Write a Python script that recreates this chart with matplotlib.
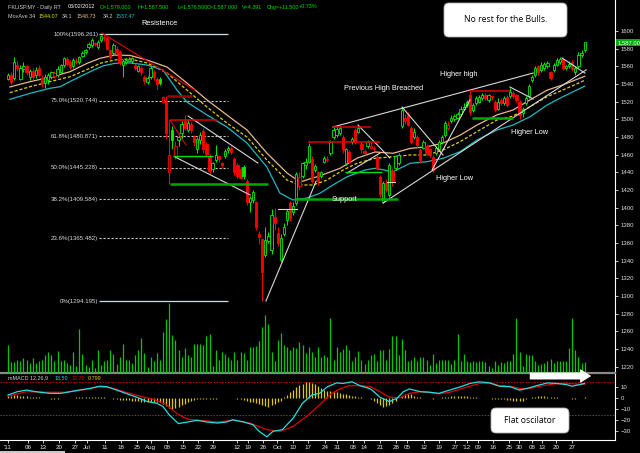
import numpy as np
import matplotlib.pyplot as plt
from matplotlib.patches import FancyBboxPatch, FancyArrowPatch, Rectangle
from matplotlib.transforms import IdentityTransform, blended_transform_factory

plt.rcParams['font.family'] = ['Liberation Sans', 'DejaVu Sans']

# daily bars, FKLI futures, 30 May 2011 .. 2 Mar 2012
opens = [1546, 1550, 1547, 1562, 1546, 1557, 1560, 1548, 1555, 1550,
         1558, 1547, 1541, 1544, 1548, 1549, 1550, 1553, 1561, 1568,
         1565, 1560, 1566, 1565, 1572, 1576, 1582, 1584, 1586, 1582,
         1590, 1592, 1592, 1578, 1575, 1580, 1576, 1562, 1565, 1566,
         1566, 1562, 1555, 1558, 1548, 1542, 1548, 1554, 1546, 1546,
         1520, 1520, 1440, 1488, 1458, 1476, 1485, 1498, 1488, 1495,
         1480, 1466, 1476, 1487, 1472, 1459, 1444, 1454, 1458, 1450,
         1458, 1465, 1467, 1455, 1448, 1444, 1446, 1430, 1406, 1409,
         1406, 1370, 1364, 1346, 1362, 1352, 1389, 1371, 1341, 1370,
         1386, 1405, 1395, 1405, 1425, 1436, 1448, 1452, 1455, 1443,
         1440, 1436, 1452, 1454, 1462, 1480, 1482, 1484, 1480, 1450,
         1463, 1474, 1488, 1486, 1472, 1464, 1470, 1468, 1466, 1457,
         1435, 1406, 1428, 1414, 1442, 1445, 1450, 1492, 1498, 1505,
         1490, 1480, 1480, 1465, 1468, 1470, 1466, 1457, 1462, 1466,
         1474, 1482, 1490, 1498, 1500, 1502, 1506, 1512, 1516, 1528,
         1510, 1518, 1520, 1524, 1528, 1522, 1526, 1520, 1512, 1522,
         1518, 1525, 1526, 1530, 1527, 1520, 1507, 1518, 1526, 1544,
         1550, 1560, 1556, 1558, 1560, 1553, 1556, 1562, 1565, 1568,
         1558, 1560, 1565, 1553, 1560, 1573, 1579]
highs = [1552, 1553, 1570, 1566, 1561, 1565, 1562, 1557, 1558, 1559,
         1562, 1550, 1551, 1552, 1555, 1555, 1560, 1563, 1571, 1571,
         1567, 1569, 1569, 1572, 1577, 1580, 1587, 1592, 1588, 1590,
         1596, 1596.3, 1594, 1580, 1586, 1583, 1578, 1568, 1569, 1570,
         1571, 1564, 1562, 1560, 1550, 1549, 1560, 1556, 1548, 1548,
         1526, 1526, 1499, 1492, 1475, 1484, 1498, 1505, 1500, 1497,
         1482, 1480, 1486, 1490, 1474, 1461, 1452, 1471, 1460, 1452,
         1466, 1470, 1470, 1457, 1450, 1446, 1448, 1432, 1413, 1420,
         1408, 1373, 1366, 1378, 1372, 1398, 1400, 1378, 1370, 1382,
         1398, 1408, 1406, 1440, 1440, 1452, 1456, 1473, 1458, 1449,
         1442, 1442, 1458, 1458, 1476, 1491, 1492, 1492, 1482, 1467,
         1465, 1480, 1490, 1494, 1474, 1466, 1476, 1474, 1470, 1460,
         1437, 1430, 1432, 1450, 1445, 1460, 1462, 1514, 1506, 1508,
         1492, 1490, 1482, 1467, 1476, 1472, 1468, 1460, 1470, 1477,
         1482, 1498, 1498, 1505, 1506, 1508, 1515, 1518, 1522, 1533,
         1518, 1526, 1528, 1530, 1530, 1529, 1528, 1522, 1524, 1524,
         1526, 1527, 1536, 1532, 1529, 1522, 1514, 1526, 1540, 1550,
         1560, 1562, 1565, 1565, 1566, 1555, 1564, 1569, 1570, 1570,
         1562, 1566, 1567, 1560, 1576, 1578, 1587.5]
lows = [1544, 1540, 1545, 1555, 1544, 1553, 1550, 1545, 1545, 1547,
        1548, 1537, 1535, 1540, 1546, 1547, 1548, 1551, 1559, 1560,
        1557, 1558, 1563, 1563, 1570, 1574, 1580, 1582, 1583, 1580,
        1588, 1589, 1578, 1568, 1573, 1574, 1562, 1548, 1563, 1565,
        1564, 1556, 1553, 1550, 1540, 1540, 1546, 1545, 1534, 1539,
        1518, 1478, 1427, 1466, 1455, 1470, 1478, 1488, 1486, 1485,
        1470, 1462, 1472, 1462, 1458, 1438, 1440, 1452, 1452, 1445,
        1456, 1462, 1461, 1437, 1433, 1432, 1432, 1403, 1395, 1405,
        1375, 1359, 1294.2, 1344, 1360, 1348, 1375, 1356, 1338, 1368,
        1380, 1385, 1392, 1403, 1420, 1434, 1444, 1450, 1428, 1440,
        1426, 1434, 1450, 1452, 1460, 1478, 1480, 1482, 1462, 1448,
        1450, 1472, 1472, 1484, 1462, 1460, 1468, 1466, 1464, 1443,
        1412, 1405, 1418, 1412, 1425, 1443, 1448, 1490, 1495, 1492,
        1472, 1478, 1468, 1450, 1466, 1460, 1457, 1440, 1460, 1464,
        1472, 1480, 1488, 1496, 1498, 1500, 1504, 1510, 1514, 1505,
        1508, 1516, 1518, 1522, 1522, 1520, 1522, 1508, 1510, 1516,
        1516, 1514, 1524, 1524, 1520, 1500, 1503, 1516, 1524, 1542,
        1548, 1550, 1554, 1556, 1558, 1545, 1554, 1560, 1563, 1556,
        1556, 1558, 1555, 1550, 1558, 1571, 1576.5]
closes = [1550, 1542, 1565, 1558, 1558, 1560, 1553, 1555, 1548, 1556,
          1550, 1541, 1548, 1550, 1553, 1552, 1557, 1561, 1569, 1563,
          1559, 1567, 1565, 1570, 1575, 1578, 1585, 1590, 1585, 1588,
          1594, 1593, 1580, 1570, 1584, 1576, 1564, 1566, 1567, 1568,
          1569, 1558, 1560, 1553, 1543, 1547, 1558, 1548, 1540, 1541,
          1525, 1485, 1460, 1476, 1470, 1480, 1495, 1490, 1496, 1488,
          1474, 1478, 1482, 1466, 1461, 1441, 1450, 1460, 1455, 1448,
          1464, 1468, 1463, 1440, 1436, 1434, 1436, 1406, 1411, 1418,
          1378, 1367, 1327, 1363, 1368, 1392, 1382, 1360, 1366, 1378,
          1396, 1388, 1402, 1438, 1435, 1450, 1452, 1470, 1430, 1447,
          1430, 1440, 1456, 1455, 1474, 1488, 1489, 1490, 1465, 1466,
          1452, 1478, 1474, 1490, 1466, 1462, 1474, 1470, 1468, 1445,
          1415, 1428, 1420, 1448, 1430, 1458, 1460, 1510, 1502, 1494,
          1474, 1486, 1471, 1454, 1474, 1462, 1460, 1443, 1468, 1474,
          1480, 1496, 1494, 1502, 1504, 1506, 1512, 1514, 1520, 1508,
          1516, 1524, 1525, 1528, 1524, 1527, 1525, 1510, 1520, 1518,
          1524, 1516, 1531, 1526, 1522, 1505, 1512, 1524, 1538, 1548,
          1558, 1553, 1562, 1563, 1564, 1547, 1562, 1567, 1568, 1558,
          1560, 1563, 1557, 1558, 1573, 1575.5, 1587]
volume = [27, 11, 11, 13, 12, 15, 13, 10, 15, 10,
          12, 13, 17, 20, 17, 12, 21, 12, 13, 10,
          8, 20, 7, 43, 18, 8, 6, 13, 5, 22,
          8, 12, 13, 22, 18, 9, 16, 28, 13, 13,
          10, 17, 22, 34, 19, 6, 16, 12, 19, 13,
          40, 52, 68, 37, 32, 22, 16, 24, 17, 16,
          28, 28, 28, 27, 36, 38, 7, 22, 13, 20,
          18, 16, 13, 20, 13, 20, 19, 13, 25, 25,
          26, 31, 45, 56, 48, 20, 12, 32, 39, 27,
          25, 22, 25, 24, 30, 27, 19, 25, 20, 16,
          25, 16, 17, 16, 53, 13, 25, 20, 23, 27,
          22, 12, 16, 21, 13, 9, 13, 17, 18, 12,
          22, 22, 13, 23, 36, 36, 17, 33, 22, 12,
          13, 16, 12, 16, 16, 13, 8, 18, 10, 13,
          13, 13, 13, 9, 13, 38, 12, 18, 12, 11,
          12, 11, 12, 12, 11, 7, 5, 12, 8, 11,
          10, 12, 12, 18, 53, 20, 7, 18, 17, 17,
          12, 8, 9, 10, 12, 14, 10, 12, 12, 12,
          12, 24, 53, 22, 16, 10, 11]

# moving averages (34 on highs / closes / lows), sampled along the chart
ma_hi_x = [0.6, 7.1, 13.5, 20, 25.5, 29.7, 34.5, 39.4, 44.8, 51.3, 57.7, 64.2, 70.6, 77.1,
           83.5, 90, 94.2, 100.6, 107.1, 112.6, 118.4, 124.2, 129.7, 135.2, 140.3, 145.8,
           151.3, 157.7, 162.9, 168.4, 173.9, 179, 186]
ma_hi = [1536.6, 1542.6, 1547.6, 1553.9, 1563.4, 1569.1, 1572.8, 1572.3, 1567.2, 1559.2, 1541.1,
         1521.9, 1504.9, 1487.9, 1461.8, 1439.2, 1429, 1436, 1444.5, 1456, 1463, 1461.5, 1467,
         1469, 1473, 1482, 1493.5, 1505, 1510.5, 1522, 1533, 1539, 1548.7]
ma_cl_x = [0.6, 7.1, 13.5, 20, 26.5, 29.7, 34.5, 39.4, 44.8, 51.3, 57.7, 64.2, 70.6, 77.1,
           83.5, 90, 94.2, 98.4, 102.9, 108.1, 112.6, 118.4, 124.2, 129.7, 135.2, 140.3,
           145.8, 151.3, 157.7, 162.9, 168.4, 173.9, 179, 186]
ma_cl = [1530.1, 1536.9, 1542.6, 1548.2, 1557.8, 1563.4, 1567.2, 1568.3, 1563.8, 1552.4, 1533.2,
         1513.9, 1495.8, 1479.9, 1453.9, 1431.2, 1425.6, 1425.6, 1431.2, 1442.6, 1450.2, 1455.8,
         1457.6, 1459.6, 1459.6, 1465.2, 1474.6, 1486, 1499.2, 1503.7, 1514.3, 1525.6, 1533.2, 1544.1]
ma_lo_x = [0.6, 7.1, 13.5, 16.8, 21, 26.5, 30.6, 34.5, 39.4, 44.8, 50, 54.5, 57.7, 64.2, 70.6,
           77.1, 83.5, 87.7, 91.9, 96.5, 100.6, 104.8, 109.4, 115.2, 118.4, 124.2, 129.7, 135.2,
           140.3, 145.8, 151.3, 157.7, 162.9, 168.4, 173.9, 179, 186]
ma_lo = [1522.6, 1529.4, 1535.1, 1536.9, 1544.5, 1553.9, 1560.4, 1563.4, 1563.8, 1561.5, 1555.8,
         1533.2, 1519.6, 1504.9, 1491.3, 1473.1, 1446, 1416.5, 1408.6, 1410.9, 1416.2, 1425.6,
         1435, 1442.6, 1444.5, 1440.6, 1450.2, 1452, 1455.8, 1463.3, 1476.5, 1487.9, 1493.5,
         1502.9, 1516.2, 1525.6, 1537.5]

# MACD 12,26,9
macd_x = [0, 3, 6, 9, 13.5, 17, 20, 23, 26.5, 29.5, 32, 35, 38.5, 41.5, 45, 48, 50, 52, 55, 58,
          61, 64, 67.5, 70.5, 72.5, 76, 79, 81, 83.5, 85.5, 88.5, 92, 95, 98, 100.5, 103, 106,
          108, 111, 113.5, 117, 120, 123, 125.5, 127.5, 129.5, 133, 136, 139, 142.5, 146, 149,
          152, 155.5, 158.5, 162, 165, 167.5, 170.5, 174, 177, 180, 182, 186]
macd = [3, 6, 7.5, 6, 4.5, 4.5, 6, 7.5, 9, 11, 10.5, 7.5, 4, 1, -3, -4.5, -7.5, -15, -23, -21.5,
        -20, -21.5, -22.5, -21.5, -19.5, -21.5, -24, -30, -35, -30, -28.5, -18, -4.5, 3, 4.5,
        10.5, 14, 13.5, 15, 11.5, 8.5, 1, -3, 0, 6, 8.5, 6, 5.5, 4.5, 7.5, 10.5, 13.5, 15, 14,
        11, 10.5, 7.5, 9, 11.5, 14, 13.5, 12.5, 11, 13.5]
signal_x = [0, 6, 13.5, 19, 24, 29.5, 34, 38, 42.5, 47, 51, 54.5, 58, 62, 67.5, 72.5, 78, 83.5,
            88, 92, 96.5, 100.5, 104, 107, 110, 113.5, 117, 120, 123, 126.5, 129.5, 133, 136,
            139, 142.5, 146, 149, 152, 155.5, 158.5, 162, 165, 168.5, 171.5, 176, 180, 186]
signal = [2, 6, 5.5, 5.5, 7.5, 10.5, 9, 5.5, 2, -1, -5.5, -14, -19, -20, -21.5, -20, -22.5, -28.5,
          -30, -25.5, -16, -6, 3.5, 8.5, 11.5, 11.5, 10.5, 6, 1, 0.5, 4.5, 6, 5.5, 4, 5.5, 8.5,
          11, 13.5, 13.5, 11.5, 11, 9, 9, 11, 13, 13.5, 12.7]
hist = [2, 2.5, 3, 3, 2.5, 2, 2, 1.5, 1.5, 1,
        1, 0.5, 0.5, 0, -0.5, -0.5, -0.5, 0, 0, 0.5,
        0.5, 0.5, 1, 1, 1, 1.5, 1.5, 1.5, 1.5, 1,
        1, 1, 0.5, 0, -0.5, -1, -1.5, -1.5, -1.5, -1.5,
        -2, -2, -2.5, -3, -3.5, -3.5, -3, -3, -3, -3.5,
        -5, -7, -9, -9.5, -9, -8, -6.5, -5, -3.5, -2.5,
        -1.5, -1, -0.5, -0.5, -0.5, -1, -1, -0.5, 0, 0.5,
        0.5, 0.5, 0.5, 0, -0.5, -1, -1.5, -2, -3, -3.5,
        -4.5, -5, -6.5, -7, -7.5, -6, -5, -3.5, -2, 1,
        3, 6, 8, 10, 12, 13, 15, 14.5, 14, 13,
        11, 9, 8, 7, 7, 6.5, 6, 5, 4, 3.5,
        3, 2.5, 2, 1.5, 1, 0.5, 0, -1, -2.5, -4,
        -6, -7.5, -7, -6, -4, -2, 0, 2.5, 3.5, 4,
        3.5, 2.5, 1.5, 1, 0.5, 0.5, 0, -0.5, 0, 0.5,
        1, 1.5, 1.5, 2, 2, 2.5, 2.5, 2, 2, 1.5,
        1, 1, 0.5, 0.5, 0, 0, -0.5, -1, -1, -1,
        -1, -1.5, -1.5, -2, -2, -2.5, -2, -1, 0, 1,
        1.5, 2, 2, 2, 1.5, 1.5, 1, 1, 0.5, 0.5,
        0, 0, -0.5, -0.5, 0, 0.5, 0.8]

# fibonacci retracement of the Jul high / Sep low
fib_names = ['100%', '75.0%', '61.8%', '50.0%', '38.2%', '23.6%', '0%']
fib_prices = [1596.261, 1520.744, 1480.871, 1445.228, 1409.584, 1365.482, 1294.195]
fib_span = (29.4, 71)

# hand drawn lines: (bar0, price0, bar1, price1)
white_lines = [(58.1, 1503.7, 80.6, 1450.5), (53.9, 1457.3, 78.1, 1414.3),
               (87.1, 1398.4, 93.2, 1398.4), (83.2, 1294.2, 99.4, 1430),
               (104.8, 1491.3, 169.4, 1552.4), (112.9, 1493.5, 123.2, 1456.2),
               (109.4, 1439.2, 120, 1461.8), (127.1, 1513.9, 140.3, 1459.6),
               (121, 1405.2, 186.5, 1556), (136.8, 1442.6, 149, 1521.9),
               (161.9, 1536.6, 169.4, 1523), (178.7, 1569.4, 186.1, 1552.4),
               (122.3, 1429, 124.8, 1429)]
red_lines = [(30.3, 1597.7, 60.3, 1533), (52.3, 1499, 57.4, 1471)]
# horizontal levels: (bar0, bar1, price)
red_levels = [(52.3, 67.4, 1499), (96.8, 120, 1474.3), (104.8, 117.1, 1491.3), (149, 161.9, 1532)]
darkred_levels = [(51.3, 59.4, 1526)]
green_levels = [(53.2, 66.1, 1458.6), (108.7, 120.6, 1440.3)]
support_levels = [(52.3, 83.9, 1427), (92.6, 125.8, 1409.7), (149.7, 162.9, 1501.5)]

notes = ['Resistence', 'Previous High Breached', 'Higher high', 'Higher Low', 'Higher Low', 'Support']
notes_x = [49, 121, 145.5, 144.2, 168.4, 108.7]
notes_p = [1608, 1535.4, 1550.2, 1433.5, 1485.6, 1409.7]

date_pos = [0, 6.45, 11.3, 16.5, 21.6, 25.5, 31.3, 36.5, 41.6, 46.1, 51.3, 56.5, 61.3, 66.1,
            73.9, 77.4, 82.3, 86.8, 91.9, 96.8, 102.3, 106.1, 111.3, 114.8, 120, 125.2, 128.7,
            134.2, 139, 144.2, 148.1, 151.6, 156.5, 161.6, 164.8, 169, 172.3, 176.8, 181.9]
date_labels = ["'11", '06', '13', '20', '27', 'Jul', '11', '18', '25', 'Aug', '08', '15', '22',
               '29', '12', '19', '26', 'Oct', '10', '17', '24', '31', '08', '14', '21', '28', '05',
               '12', '19', '27', "'12", '09', '16', '25', '30', '08', '13', '20', '27']

W, H = 640, 453
fig = plt.figure(figsize=(W / 100, H / 100), dpi=100, facecolor='black')
ax = fig.add_axes([0, 80 / H, 615 / W, 373 / H])
axm = fig.add_axes([0, 13 / H, 615 / W, 67 / H], sharex=ax)
for a in (ax, axm):
    a.set_facecolor('black')
    for s in ('left', 'top', 'bottom'):
        a.spines[s].set_visible(False)
    a.spines['right'].set_color('white')
    a.yaxis.tick_right()
    a.tick_params(colors='#e0e0e0', labelsize=4.3, length=2, width=0.6, pad=2)
axm.spines['bottom'].set_visible(True)
axm.spines['bottom'].set_color('white')
axm.spines['top'].set_visible(True)
axm.spines['top'].set_color('#8a8a8a')
axm.spines['top'].set_linewidth(1.6)

ax.set_xlim(-2.58, 195.8)
ax.set_ylim(1212.7, 1635.1)
ax.set_yticks(np.arange(1220, 1601, 20))
ax.tick_params(axis='x', bottom=False, labelbottom=False)

idx = np.arange(len(closes))
o = np.array(opens, float)
c = np.array(closes, float)
prev = np.r_[c[0] - 1, c[:-1]]
col = np.where(c >= prev, '#00f000', '#ff0000')

# volume underneath the price bars
axv = fig.add_axes(ax.get_position(), sharex=ax)
axv.set_ylim(0, 362)
axv.axis('off')
axv.vlines(idx, 0, volume, color='#00c800', lw=0.9)

# moving averages
ax.plot(ma_hi_x, ma_hi, color='#e8b890', lw=0.9, zorder=2)
ax.plot(ma_cl_x, ma_cl, color='#e0d000', lw=0.9, ls=(0, (2.5, 1.5)), zorder=2)
ax.plot(ma_lo_x, ma_lo, color='#20b8c0', lw=0.9, zorder=2)

# candles: hollow when close > open, colour by change vs previous close
ax.vlines(idx, lows, highs, colors=col, lw=0.7, zorder=3)
body = np.maximum(np.abs(c - o), 0.9)
face = np.where(c > o, 'black', col)
ax.bar(idx, body, bottom=np.minimum(o, c), width=0.72, color=face, edgecolor=col,
       linewidth=0.6, zorder=4)

# fibonacci levels
for i, (name, p) in enumerate(zip(fib_names, fib_prices)):
    solid = i in (0, len(fib_prices) - 1)
    ax.hlines(p, *fib_span, color='#c8e0e4' if solid else '#c8c8c8', lw=0.9 if solid else 0.8,
              ls='-' if solid else (0, (2, 1.6)), zorder=2)
    ax.text(fib_span[0] - 0.3, p, f'{name}({p:.3f})', ha='right', va='center',
            fontsize=4.4, color='#d8dce0')

for x0, p0, x1, p1 in white_lines:
    ax.plot([x0, x1], [p0, p1], color='#d8d8d8', lw=0.8, zorder=5)
for x0, p0, x1, p1 in red_lines:
    ax.plot([x0, x1], [p0, p1], color='#e00000', lw=0.8, zorder=5)
for x0, x1, p in red_levels:
    ax.hlines(p, x0, x1, color='#e00000', lw=1.1, zorder=5)
for x0, x1, p in darkred_levels:
    ax.hlines(p, x0, x1, color='#a00000', lw=1.8, zorder=5)
for x0, x1, p in green_levels:
    ax.hlines(p, x0, x1, color='#00e000', lw=1.0, zorder=5)
for x0, x1, p in support_levels:
    ax.hlines(p, x0, x1, color='#00a800', lw=1.8, zorder=5)

for t, x, p in zip(notes, notes_x, notes_p):
    ax.text(x, p, t, ha='center', va='center', fontsize=5.3, color='white', zorder=6)

# last price tag
tr = blended_transform_factory(ax.transAxes, ax.transData)
ax.text(1.004, closes[-1], f'{closes[-1]:,.2f}', transform=tr, ha='left', va='center',
        fontsize=4.2, color='white', clip_on=False,
        bbox=dict(boxstyle='square,pad=0.25', fc='#00b000', ec='none'))

# MACD panel
axm.set_ylim(-37.9, 23.0)
axm.set_yticks([10, 0, -10, -20, -30])
axm.axhline(14.5, color='#c00000', lw=0.7, ls=(0, (1.5, 1.5)))
axm.axhline(-15.5, color='#5a5030', lw=0.7, ls=(0, (1.5, 1.5)))
axm.vlines(idx, 0, hist, color='#e0c800', lw=0.9)
axm.plot(signal_x, signal, color='#e00000', lw=0.9)
axm.plot(macd_x, macd, color='#20e0e0', lw=0.9)
axm.set_xticks(date_pos)
axm.set_xticklabels(date_labels)
axm.tick_params(axis='x', colors='#e8e8e8', labelsize=4.5, length=2.5, width=0.6, pad=1)


def fx(x, y):
    return x / W, 1 - y / H


hdr = [('FKLISP.MY - Daily RT', 8, 7, '#d0d0d0'), ('03/02/2012', 68, 7, 'white'),
       ('O=1,579.000', 100, 7, '#00e000'), ('H=1,587.500', 138, 7, '#00e000'),
       ('L=1,576.500', 177, 7, '#00e000'), ('C=1,587.000', 207, 7, '#00e000'),
       ('V=4,391', 242, 7, '#00e000'), ('Chg=+11.500', 267, 7, '#00e000'),
       ('+0.73%', 299, 7, '#00e000'),
       ('MovAve 34', 8, 17, '#d0d0d0'), ('1544.07', 39, 17, '#e0e000'),
       ('34.1', 62, 17, '#d0d0d0'), ('1548.73', 77, 17, '#e8b890'),
       ('34.2', 103, 17, '#d0d0d0'), ('1537.47', 116, 17, '#20c0c8'),
       ('mMACD 12,26,9', 8, 378, '#d0d0d0'), ('13.50', 55, 378, '#20e0e0'),
       ('12.70', 72, 378, '#e00000'), ('0.799', 88, 378, '#e0d000')]
for t, x, y, cc in hdr:
    fig.text(*fx(x, y), t, color=cc, fontsize=3.9, ha='left', va='center')

# callout boxes and arrow
for (x0, y0, x1, y1), t in [((444, 3, 567, 37), 'No rest for the Bulls.'),
                            ((491, 408, 569, 433), 'Flat oscilator')]:
    fig.add_artist(FancyBboxPatch((x0, H - y1), x1 - x0, y1 - y0,
                                  boxstyle='round,pad=0,rounding_size=5',
                                  transform=IdentityTransform(), fc='white', ec='#b0b0b0', lw=0.6))
    fig.text(*fx((x0 + x1) / 2, (y0 + y1) / 2), t, ha='center', va='center', fontsize=6.2,
             color='black', family=['Open Sans', 'DejaVu Sans'])
fig.add_artist(FancyArrowPatch((527, H - 376), (594, H - 376), transform=IdentityTransform(),
                               arrowstyle='simple,head_length=8,head_width=10,tail_width=5',
                               mutation_scale=1, fc='white', ec='white', lw=0))
fig.add_artist(Rectangle((0, 0), 65 / W, 2 / H, transform=fig.transFigure, fc='#c8c8c8', ec='none'))

fig.savefig('out.png', dpi=100, facecolor='black')
